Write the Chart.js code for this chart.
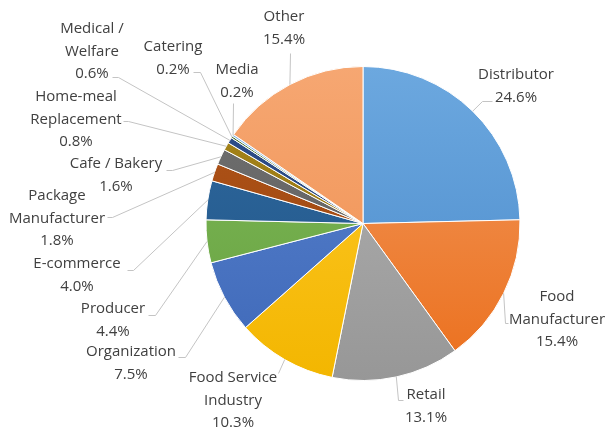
<!DOCTYPE html>
<html>
<head>
<meta charset="utf-8">
<script src="https://cdn.jsdelivr.net/npm/chart.js@4"></script>
<style>
  html, body { margin: 0; padding: 0; background: #fff; }
  #wrap { width: 610px; height: 430px; }
</style>
</head>
<body>
<div id="wrap"><canvas id="pie" width="610" height="430"></canvas></div>
<script>
const categories = ["Distributor", "Food Manufacturer", "Retail", "Food Service Industry", "Organization",
  "Producer", "E-commerce", "Package Manufacturer", "Cafe / Bakery", "Home-meal Replacement",
  "Medical / Welfare", "Catering", "Media", "Other"];
const shares = [24.6, 15.4, 13.1, 10.3, 7.5, 4.4, 4.0, 1.8, 1.6, 0.8, 0.6, 0.2, 0.2, 15.4];
// how each label is broken into lines
const labelLines = [["Distributor"], ["Food", "Manufacturer"], ["Retail"], ["Food Service", "Industry"],
  ["Organization"], ["Producer"], ["E-commerce"], ["Package", "Manufacturer"], ["Cafe / Bakery"],
  ["Home-meal", "Replacement"], ["Medical /", "Welfare"], ["Catering"], ["Media"], ["Other"]];

// gradient colours, top -> bottom
const topColor = ["#6ca8df", "#f29a60", "#b3b3b3", "#ffcb2e", "#5a84cf", "#80bb5a", "#2f6aa0",
  "#b5561a", "#727272", "#a98820", "#2f5190", "#4e7a33", "#8dbbe4", "#f6a772"];
const bottomColor = ["#4a8acb", "#eb6f1c", "#979797", "#f3b600", "#3e68b8", "#66a03f", "#215486",
  "#93420c", "#5a5a5a", "#8d6b00", "#223e6e", "#3c5f26", "#72a6d8", "#ef8e4e"];

// label placement: centre x, first line y, leader line points
const labelPos = [
  { x: 516, y: 75, path: [[482, 101], [492, 101]] },
  { x: 557, y: 297, path: [[505, 323], [508, 323]] },
  { x: 426, y: 395, path: [[398, 400], [403, 400]] },
  { x: 233, y: 378, path: [[278, 373]] },
  { x: 131, y: 352, path: [[185, 357], [178, 357]] },
  { x: 113, y: 309, path: [[155, 315], [148, 315]] },
  { x: 77, y: 264, path: [[133, 270], [127, 270]] },
  { x: 57, y: 196, path: [[112, 217], [107, 217]] },
  { x: 116, y: 164, path: [[172, 170], [166, 170]] },
  { x: 76, y: 97, path: [[128, 121], [123, 121]] },
  { x: 92, y: 29, path: [[118, 77], [112, 77]] },
  { x: 173, y: 47, path: [[200, 72], [193, 72]] },
  { x: 237, y: 70, path: [[233, 103]] },
  { x: 284, y: 17, path: [[290, 53]] }
];

const outsideLabels = {
  id: "outsideLabels",
  afterDatasetsDraw(chart) {
    const ctx = chart.ctx;
    const arcs = chart.getDatasetMeta(0).data;
    ctx.save();
    arcs.forEach((arc, i) => {
      const p = arc.getProps(["x", "y", "startAngle", "endAngle", "outerRadius"]);
      const mid = (p.startAngle + p.endAngle) / 2;
      const ax = p.x + Math.cos(mid) * p.outerRadius;
      const ay = p.y + Math.sin(mid) * p.outerRadius;
      const pos = labelPos[i];
      ctx.strokeStyle = "#c4c4c4";
      ctx.lineWidth = 1;
      ctx.beginPath();
      ctx.moveTo(ax, ay);
      for (const pt of pos.path) ctx.lineTo(pt[0] + 0.5, pt[1] + 0.5);
      ctx.stroke();

      const lines = labelLines[i].concat([shares[i].toFixed(1) + "%"]);
      ctx.fillStyle = "#404040";
      ctx.font = "15px 'Open Sans'";
      ctx.textAlign = "center";
      ctx.textBaseline = "middle";
      lines.forEach((t, k) => ctx.fillText(t, pos.x, pos.y + k * 22.5));
    });
    ctx.restore();
  }
};

new Chart(document.getElementById("pie"), {
  type: "pie",
  data: {
    labels: categories,
    datasets: [{
      data: shares,
      backgroundColor: (c) => {
        const area = c.chart.chartArea;
        if (!area) return bottomColor[c.dataIndex];
        const g = c.chart.ctx.createLinearGradient(0, area.top, 0, area.bottom);
        g.addColorStop(0, topColor[c.dataIndex]);
        g.addColorStop(1, bottomColor[c.dataIndex]);
        return g;
      },
      borderColor: "#ffffff",
      borderWidth: 1
    }]
  },
  options: {
    responsive: false,
    animation: false,
    layout: { padding: { left: 200, right: 84, top: 66, bottom: 49 } },
    plugins: {
      legend: { display: false },
      tooltip: { enabled: false }
    }
  },
  plugins: [outsideLabels]
});
</script>
</body>
</html>
